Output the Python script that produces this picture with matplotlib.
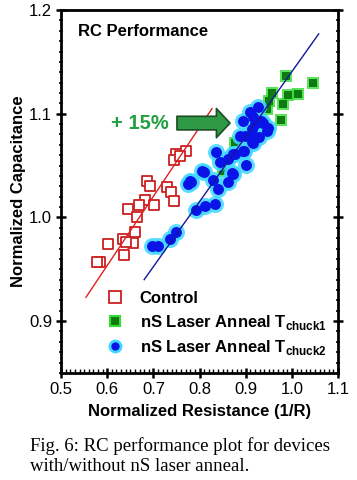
import numpy as np
import matplotlib
matplotlib.use("Agg")
import matplotlib.pyplot as plt
from matplotlib.lines import Line2D
from matplotlib.ticker import MultipleLocator

plt.rcParams['font.family'] = ['Liberation Sans', 'DejaVu Sans']
plt.rcParams['mathtext.fontset'] = 'custom'
plt.rcParams['mathtext.rm'] = 'Liberation Sans:bold'
plt.rcParams['mathtext.bf'] = 'Liberation Sans:bold'

# Control (open red squares)
ctrl_x = [0.750, 0.771, 0.745, 0.757, 0.686, 0.693, 0.729, 0.738, 0.745, 0.682,
          0.701, 0.669, 0.645, 0.665, 0.660, 0.634, 0.656, 0.601, 0.636, 0.584,
          0.578, 0.640]
ctrl_y = [1.061, 1.064, 1.055, 1.059, 1.035, 1.030, 1.029, 1.025, 1.016, 1.017,
          1.012, 1.012, 1.008, 1.000, 0.986, 0.979, 0.975, 0.974, 0.964, 0.957,
          0.957, 0.976]

# nS laser anneal, T_chuck1 (green squares)
t1_x = [0.988, 1.045, 0.956, 0.992, 1.014, 0.951, 0.981, 0.976, 0.945, 0.877,
        0.851, 0.884, 0.920, 0.930]
t1_y = [1.136, 1.130, 1.120, 1.118, 1.119, 1.112, 1.109, 1.094, 1.105, 1.072,
        1.045, 1.073, 1.100, 1.082]

# nS laser anneal, T_chuck2 (blue circles)
t2_x = [0.698, 0.711, 0.736, 0.749, 0.792, 0.812, 0.833, 0.840, 0.776, 0.781,
        0.830, 0.862, 0.810, 0.871, 0.861, 0.844, 0.836, 0.873, 0.897, 0.900,
        0.916, 0.887, 0.898, 0.915, 0.929, 0.895, 0.920, 0.938, 0.949, 0.945,
        0.909, 0.927, 0.913, 0.934, 0.916, 0.805, 0.779, 0.872, 0.913, 0.877,
        0.895]
t2_y = [0.972, 0.972, 0.979, 0.986, 1.007, 1.011, 1.013, 1.027, 1.032, 1.034,
        1.036, 1.034, 1.044, 1.043, 1.056, 1.053, 1.063, 1.061, 1.064, 1.051,
        1.072, 1.079, 1.079, 1.079, 1.078, 1.093, 1.090, 1.091, 1.086, 1.083,
        1.102, 1.107, 1.085, 1.093, 1.097, 1.045, 1.035, 1.042, 1.073, 1.061,
        1.064]

# fit lines (end points)
ctrl_fit_x = [0.554, 0.827]
ctrl_fit_y = [0.923, 1.105]
t2_fit_x = [0.680, 1.058]
t2_fit_y = [0.940, 1.177]

fig = plt.figure(figsize=(3.57, 4.80), dpi=100)
ax = fig.add_axes([0.171, 0.223, 0.776, 0.756])

# control squares
ax.scatter(ctrl_x, ctrl_y, s=62, marker='s', facecolors='white',
           edgecolors='#cc2020', linewidths=1.3, zorder=3)

# green squares with bright halo
ax.scatter(t1_x, t1_y, s=80, marker='s', color='#33dd33', alpha=0.8,
           linewidths=0, zorder=2)
ax.scatter(t1_x, t1_y, s=36, marker='s', color='#0e7a12', linewidths=0,
           zorder=2.1)

# blue circles with cyan halo
ax.scatter(t2_x, t2_y, s=150, marker='o', color='#3fd8ff', alpha=0.85,
           linewidths=0, zorder=4)
ax.scatter(t2_x, t2_y, s=62, marker='o', color='#0a14e6', linewidths=0,
           zorder=4.1)

ax.plot(ctrl_fit_x, ctrl_fit_y, color='#dd2020', lw=1.0, zorder=5)
ax.plot(t2_fit_x, t2_fit_y, color='#16169a', lw=1.0, zorder=5)

# +15% annotation
ax.text(0.733, 1.091, '+ 15%', color='#20a040', fontsize=14.5,
        fontweight='bold', ha='right', va='center', zorder=6)
ax.annotate('', xy=(0.872, 1.091), xytext=(0.745, 1.091),
            arrowprops=dict(arrowstyle='simple,head_length=0.7,head_width=1.5,tail_width=0.7',
                            fc='#2e9a46', ec='#1d4d25', lw=1.2, mutation_scale=14),
            zorder=6)

ax.text(0.061, 0.942, 'RC Performance', transform=ax.transAxes,
        fontsize=12, fontweight='bold', va='center', ha='left')

ax.set_xlim(0.5, 1.1)
ax.set_ylim(0.85, 1.2)
ax.set_xticks([0.5, 0.6, 0.7, 0.8, 0.9, 1.0, 1.1])
ax.set_yticks([0.9, 1.0, 1.1, 1.2])
ax.xaxis.set_minor_locator(MultipleLocator(0.01))
ax.yaxis.set_minor_locator(MultipleLocator(0.01))
ax.xaxis.set_major_formatter(matplotlib.ticker.FormatStrFormatter('%.1f'))
ax.yaxis.set_major_formatter(matplotlib.ticker.FormatStrFormatter('%.1f'))

ax.tick_params(axis='x', which='major', direction='inout', length=7, width=1.8,
               labelsize=12, pad=3)
ax.tick_params(axis='x', which='minor', direction='in', length=3, width=1.0)
ax.tick_params(axis='y', which='major', direction='inout', length=7, width=1.8,
               labelsize=12, right=True, pad=3)
ax.tick_params(axis='y', which='minor', direction='inout', length=3.5,
               width=1.2, right=True)
for sp in ax.spines.values():
    sp.set_linewidth(2.0)

ax.set_xlabel('Normalized Resistance (1/R)', fontsize=12, fontweight='bold',
              labelpad=5)
ax.set_ylabel('Normalized Capacitance', fontsize=12, fontweight='bold',
              labelpad=2)

handles = [
    Line2D([], [], ls='none', marker='s', ms=9, mfc='white', mec='#cc2020',
           mew=1.3),
    Line2D([], [], ls='none', marker='s', ms=7, mfc='#0e7a12', mec='#33dd33',
           mew=1.5),
    Line2D([], [], ls='none', marker='o', ms=8, mfc='#0a14e6', mec='#3fd8ff',
           mew=2.0),
]
labels = ['Control', r'nS Laser Anneal T$_{\mathrm{chuck1}}$',
          r'nS Laser Anneal T$_{\mathrm{chuck2}}$']
ax.legend(handles, labels, loc='lower left', bbox_to_anchor=(0.14, 0.025),
          frameon=False, handlelength=1.0, handletextpad=1.0,
          labelspacing=0.4, borderaxespad=0,
          prop={'size': 12, 'weight': 'bold'})

fig.text(0.084, 0.05, 'Fig. 6: RC performance plot for devices\nwith/without nS laser anneal.',
         family=['Liberation Serif', 'DejaVu Serif'], fontsize=13.5,
         ha='left', va='center', linespacing=1.2)

fig.savefig('out.png', dpi=100)
